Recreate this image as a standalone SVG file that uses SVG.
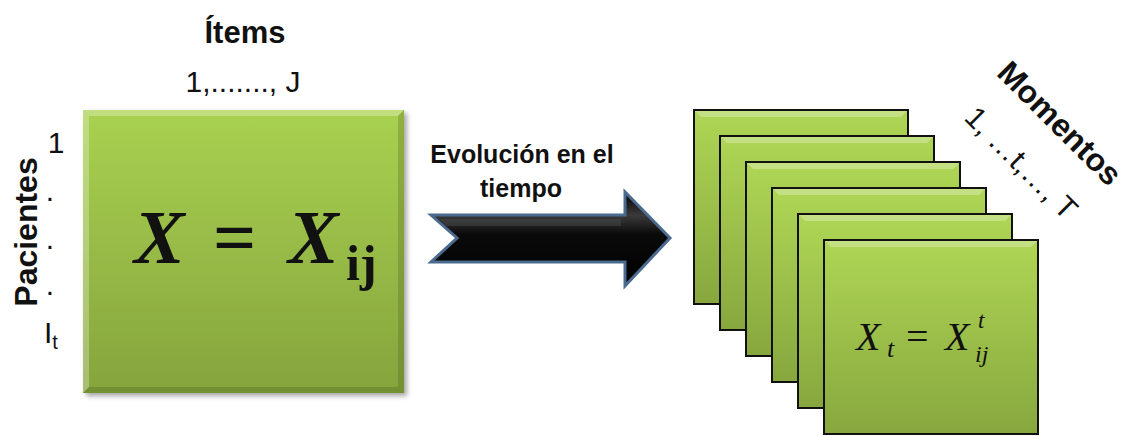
<svg xmlns="http://www.w3.org/2000/svg" width="1133" height="436" viewBox="0 0 1133 436">
<defs>
<style>
.sans{font-family:"Liberation Sans",Arial,sans-serif;fill:#111}
.bold{font-weight:bold}
.math{font-family:"Liberation Serif","Times New Roman",serif;fill:#111}
.card{fill:url(#g2);stroke:#111;stroke-width:2}
.hl{fill:#ffffff;opacity:0.28}
.sh{fill:#3e5514;opacity:0.25}
</style>
<linearGradient id="g1" x1="0" y1="0" x2="0" y2="1">
<stop offset="0" stop-color="#a9d150"/>
<stop offset="1" stop-color="#85a43d"/>
</linearGradient>
<linearGradient id="g2" x1="0" y1="0" x2="0" y2="1">
<stop offset="0" stop-color="#afd655"/>
<stop offset="1" stop-color="#87a73e"/>
</linearGradient>
<linearGradient id="ga" x1="0" y1="0" x2="0" y2="1">
<stop offset="0" stop-color="#000"/>
<stop offset="0.25" stop-color="#3a3a3a"/>
<stop offset="0.45" stop-color="#0a0a0a"/>
<stop offset="1" stop-color="#000"/>
</linearGradient>
<filter id="ds" x="-10%" y="-10%" width="125%" height="125%">
<feDropShadow dx="3" dy="3" stdDeviation="2.5" flood-color="#000" flood-opacity="0.35"/>
</filter>
</defs>

<g id="matrix">
<rect x="83" y="110" width="321" height="283" fill="url(#g1)" filter="url(#ds)"/>
<polygon class="hl" points="83,110 404,110 398,116 89,116"/>
<polygon class="hl" points="83,110 89,116 89,387 83,393" opacity="0.18"/>
<polygon class="sh" points="404,110 404,393 398,387 398,116"/>
<polygon class="sh" points="83,393 404,393 398,387 89,387"/>
<text class="math bold" font-style="italic" font-size="76" x="134" y="263">X</text>
<text class="math bold" font-size="76" x="213" y="263">=</text>
<text class="math bold" font-style="italic" font-size="76" x="288" y="263">X</text>
<text class="math bold" font-size="50" x="346" y="280">ij</text>
</g>

<g id="items-label">
<text class="sans bold" font-size="31" x="245" y="43" text-anchor="middle">Ítems</text>
<text class="sans" font-size="30" x="243" y="92" text-anchor="middle">1,......., J</text>
</g>

<g id="pacientes-label">
<text class="sans bold" font-size="32" transform="translate(37,232) rotate(-90)" text-anchor="middle">Pacientes</text>
<text class="sans" font-size="30" x="56" y="153" text-anchor="middle">1</text>
<text class="sans" font-size="30" x="50" y="201" text-anchor="middle">.</text>
<text class="sans" font-size="30" x="50" y="249" text-anchor="middle">.</text>
<text class="sans" font-size="30" x="50" y="295" text-anchor="middle">.</text>
<text class="sans" font-size="30" x="44" y="343">I<tspan font-size="20" dy="6">t</tspan></text>
</g>

<g id="connectors">
<polygon points="431,215 625,215 625,192 670,238 625,286 625,262 431,262 457,238" fill="url(#ga)" stroke="#4b6a8f" stroke-width="3" stroke-linejoin="miter"/>
<polygon points="440,219 621,219 621,226 446,226" fill="#5a5a5a" opacity="0.35"/>
</g>

<g id="arrow-label">
<text class="sans bold" font-size="25" x="522" y="163" text-anchor="middle">Evolución en el</text>
<text class="sans bold" font-size="25" x="521" y="197" text-anchor="middle">tiempo</text>
</g>

<g id="stack">
<g id="card1"><rect class="card" x="694" y="110" width="214" height="194"/><polygon class="hl" points="695,111 907,111 901,117 701,117"/></g>
<g id="card2"><rect class="card" x="720" y="136" width="214" height="194"/><polygon class="hl" points="721,137 933,137 927,143 727,143"/></g>
<g id="card3"><rect class="card" x="746" y="162" width="214" height="194"/><polygon class="hl" points="747,163 959,163 953,169 753,169"/></g>
<g id="card4"><rect class="card" x="772" y="188" width="214" height="194"/><polygon class="hl" points="773,189 985,189 979,195 779,195"/></g>
<g id="card5"><rect class="card" x="798" y="214" width="214" height="194"/><polygon class="hl" points="799,215 1011,215 1005,221 805,221"/></g>
<g id="card6"><rect class="card" x="824" y="240" width="214" height="194"/><polygon class="hl" points="825,241 1037,241 1031,247 831,247"/>
<text class="math" font-style="italic" font-size="40" x="856" y="350">X</text>
<text class="math" font-style="italic" font-size="26" x="887" y="357">t</text>
<text class="math" font-size="40" x="906" y="350">=</text>
<text class="math" font-style="italic" font-size="40" x="945" y="350">X</text>
<text class="math" font-style="italic" font-size="23" x="978" y="328">t</text>
<text class="math" font-style="italic" font-size="24" x="975" y="362">ij</text>
</g>
</g>

<g id="momentos-label">
<text class="sans bold" font-size="32" transform="translate(1052,131) rotate(45)" text-anchor="middle">Momentos</text>
<text class="sans" font-size="30" transform="translate(1014,170) rotate(45)" text-anchor="middle">1, …t,…, T</text>
</g>
</svg>
